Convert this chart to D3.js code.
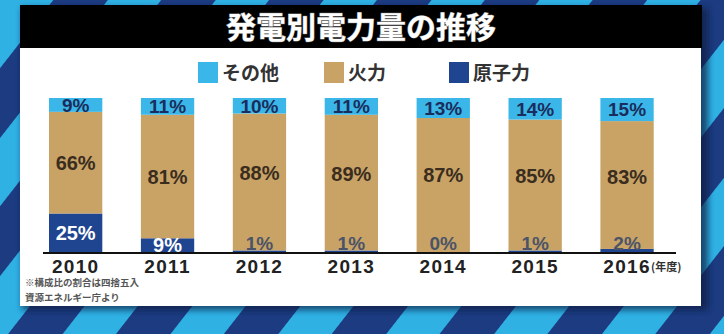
<!DOCTYPE html>
<html><head><meta charset="utf-8">
<script src="https://cdn.jsdelivr.net/npm/d3@7"></script>
<style>html,body{margin:0;padding:0;background:#1c3a7e;overflow:hidden}</style>
</head><body>
<svg id="c" width="724" height="334"></svg>
<script>
const years = ["2010","2011","2012","2013","2014","2015","2016"];
const other = [9,11,10,11,13,14,15];
const thermal = [66,81,88,89,87,85,83];
const nuclear = [25,9,1,1,0,1,2];
const seriesNames = {other:"その他", thermal:"火力", nuclear:"原子力"};
const colors = {other:"#3ab7e8", thermal:"#c9a366", nuclear:"#1f4590"};

const svg = d3.select("#c");
const NUM = "'Liberation Sans', Arial, 'Noto Sans CJK JP', sans-serif";
const JP = "'Noto Sans CJK JP', sans-serif";

// background stripes
const defs = svg.append("defs");
const pat = defs.append("pattern").attr("id","stripes").attr("patternUnits","userSpaceOnUse")
  .attr("width",85).attr("height",85).attr("patternTransform","rotate(38)");
pat.append("rect").attr("width",85).attr("height",85).attr("fill","#1c3b80");
pat.append("rect").attr("width",42).attr("height",85).attr("fill","#2fb1e4");
const blur = defs.append("filter").attr("id","sh").attr("x","-5%").attr("y","-5%").attr("width","110%").attr("height","110%");
blur.append("feGaussianBlur").attr("stdDeviation",3);
svg.append("rect").attr("width",724).attr("height",334).attr("fill","url(#stripes)");

// panel shadow + panel
svg.append("rect").attr("x",22).attr("y",8).attr("width",686).attr("height",302).attr("fill","#0b1a40").attr("opacity",0.7).attr("filter","url(#sh)");
svg.append("rect").attr("x",20).attr("y",48).attr("width",681).attr("height",258).attr("fill","#ffffff");
svg.append("rect").attr("x",20).attr("y",5).attr("width",682).attr("height",43).attr("fill","#000000");
svg.append("text").attr("x",361).attr("y",27).attr("dy","0.36em").attr("text-anchor","middle")
  .attr("font-family",JP).attr("font-weight",700).attr("font-size",30)
  .attr("fill","#ffffff").attr("stroke","#777").attr("stroke-width",1).attr("paint-order","stroke")
  .text("発電別電力量の推移");

// legend
const legendKeys = ["other","thermal","nuclear"];
const legendX = [198,324,449];
legendKeys.forEach((k,i)=>{
  const g = svg.append("g").attr("transform",`translate(${legendX[i]},62)`);
  g.append("rect").attr("width",20).attr("height",21).attr("fill",colors[k]);
  g.append("text").attr("x",24).attr("y",11).attr("dy","0.36em")
    .attr("font-family",JP).attr("font-weight",700).attr("font-size",19).attr("fill","#333")
    .text(seriesNames[k]);
});

// data table
const table = years.map((y,i)=>({year:y, nuclear:nuclear[i], thermal:thermal[i], other:other[i]}));
const keys = ["nuclear","thermal","other"];
const stack = d3.stack().keys(keys).offset(d3.stackOffsetExpand)(table);

const x = d3.scaleBand().domain(years).range([29.7,673]).paddingInner(0.42).paddingOuter(0.21);
const y = d3.scaleLinear().domain([0,1]).range([252,98]);

const layers = svg.append("g").selectAll("g").data(stack).join("g").attr("fill",d=>colors[d.key]);
layers.selectAll("rect").data(d=>d).join("rect")
  .attr("x",d=>x(d.data.year)).attr("width",x.bandwidth())
  .attr("y",d=>y(d[1])).attr("height",d=>y(d[0])-y(d[1]));

// axis
const axis = svg.append("g").attr("transform","translate(0,253)")
  .call(d3.axisBottom(x).tickSize(0).tickSizeOuter(0));
axis.select(".domain").remove();
svg.append("line").attr("x1",43).attr("x2",676).attr("y1",253).attr("y2",253).attr("stroke","#111").attr("stroke-width",2);
axis.selectAll("text").attr("y",13).attr("dy","0.36em")
  .attr("font-family",NUM).attr("font-weight",700).attr("font-size",19)
  .attr("letter-spacing","1.3px").attr("fill","#222");
svg.append("text").attr("x",651).attr("y",267).attr("dy","0.36em")
  .attr("font-family",JP).attr("font-weight",700).attr("font-size",11).attr("fill","#333").text("(年度)");

// labels
const lab = svg.append("g").attr("text-anchor","middle").attr("font-family",NUM).attr("font-weight",700);
const sOther = stack[2], sTherm = stack[1], sNuc = stack[0];
years.forEach((yr,i)=>{
  const cx = x(yr) + x.bandwidth()/2;
  const base = y(0);
  lab.append("text").attr("x",cx).attr("y",(y(sOther[i][0])+y(sOther[i][1]))/2).attr("dy","0.36em")
    .attr("font-size",19).attr("fill","#1a2d5c").text(other[i]+"%");
  const tTop = y(sTherm[i][1]);
  const tBot = nuclear[i] >= 5 ? y(sTherm[i][0]) : base - 20;
  lab.append("text").attr("x",cx).attr("y",(tTop+tBot)/2).attr("dy","0.36em")
    .attr("font-size",20).attr("fill","#3a2d1e").text(thermal[i]+"%");
  if (nuclear[i] >= 5) {
    lab.append("text").attr("x",cx).attr("y",(y(sNuc[i][0])+y(sNuc[i][1]))/2).attr("dy","0.36em")
      .attr("font-size",20).attr("fill","#ffffff").text(nuclear[i]+"%");
  } else {
    lab.append("text").attr("x",cx).attr("y",base-8.5).attr("dy","0.36em")
      .attr("font-size",19).attr("fill","#4b5366").text(nuclear[i]+"%");
  }
});

// footnotes
svg.append("text").attr("x",25).attr("y",283).attr("dy","0.36em")
  .attr("font-family",JP).attr("font-weight",700).attr("font-size",9.5).attr("fill","#555").text("※構成比の割合は四捨五入");
svg.append("text").attr("x",25).attr("y",297.5).attr("dy","0.36em")
  .attr("font-family",JP).attr("font-weight",700).attr("font-size",9.5).attr("fill","#555").text("資源エネルギー庁より");
</script>
</body></html>
